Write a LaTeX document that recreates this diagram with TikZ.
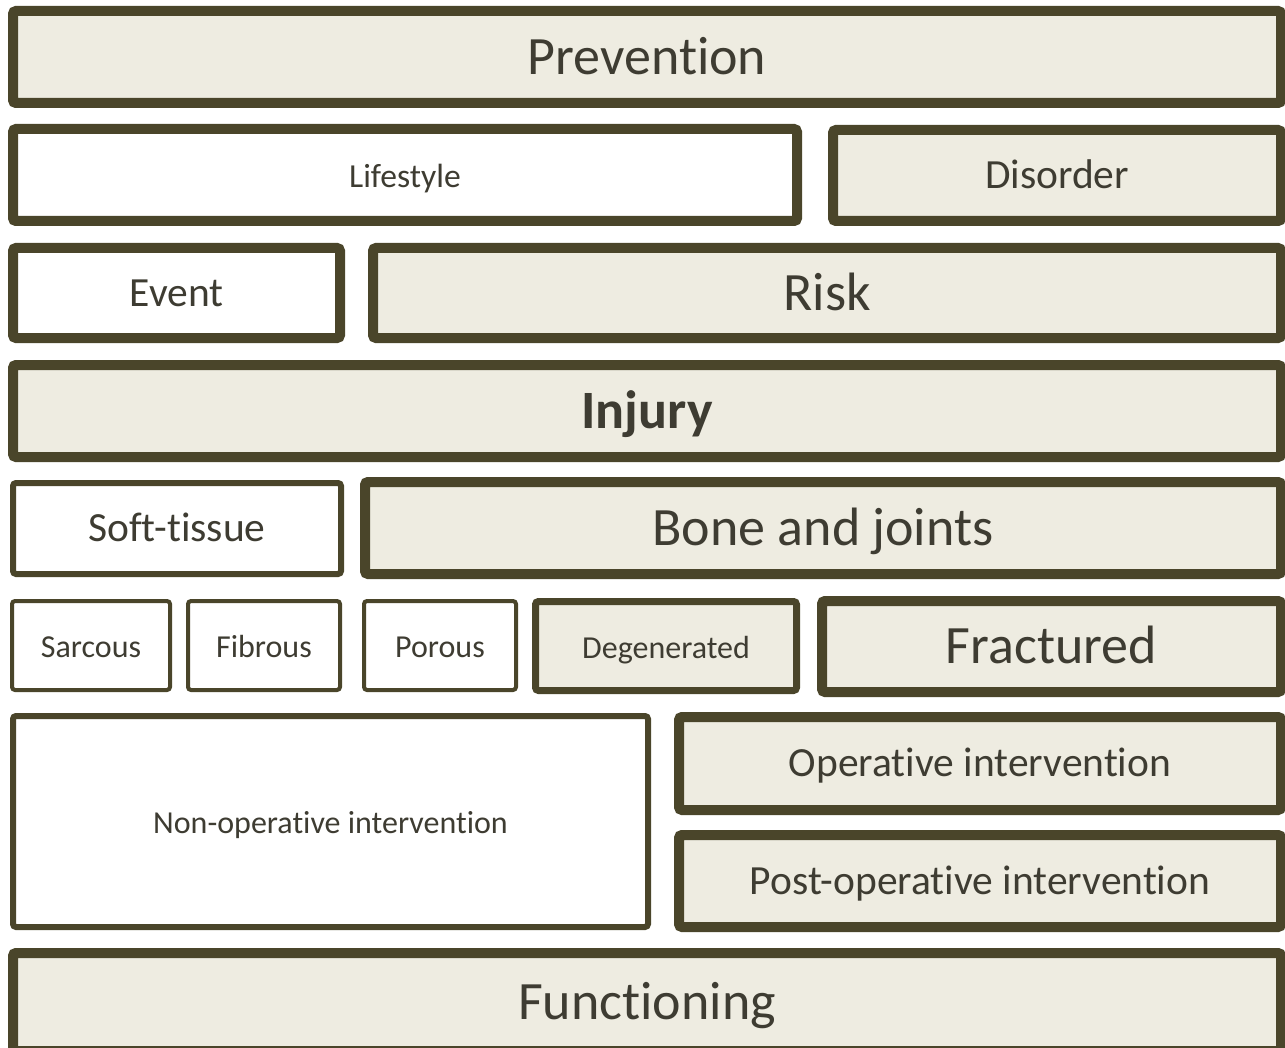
\documentclass[tikz,border=0pt]{standalone}
\usepackage{fontspec}
\setmainfont[Ligatures=NoCommon]{Carlito}
\definecolor{boxline}{RGB}{74,69,42}
\definecolor{boxtan}{RGB}{238,236,225}
\definecolor{boxtext}{RGB}{62,60,50}

\begin{document}
\begin{tikzpicture}[x=0.5pt, y=-0.5pt,
        tanbox/.style={draw=boxline, fill=boxtan, rounded corners=1.5pt, text=boxtext, inner sep=0pt, text depth=0pt},
        whitebox/.style={tanbox, fill=white},
        bigtxt/.style={font=\fontsize{27}{30}\selectfont, text height=17.4pt},
        midtxt/.style={font=\fontsize{20.75}{24}\selectfont, text height=13.4pt},
        smltxt/.style={font=\fontsize{16}{19}\selectfont, text height=12.3pt}]
                \useasboundingbox (0,0) rectangle (1285,1048);
                % top rows
                \node[tanbox, bigtxt, line width=5pt, minimum width=634pt, minimum height=46pt] (prevention) at (647,57) {Prevention};
                \node[whitebox, font=\fontsize{16.8}{20}\selectfont, text height=12.8pt, line width=5pt, minimum width=392pt, minimum height=46pt] (lifestyle) at (405,175) {Lifestyle};
                \node[tanbox, midtxt, line width=5pt, minimum width=224pt, minimum height=45.5pt] (disorder) at (1057,175.5) {Disorder};
                \node[whitebox, midtxt, line width=5pt, minimum width=163.5pt, minimum height=45pt] (event) at (176.5,293) {Event};
                \node[tanbox, bigtxt, line width=5pt, minimum width=454pt, minimum height=45pt] (risk) at (827,293) {Risk};
                \node[tanbox, bigtxt, font=\fontsize{27}{30}\selectfont\bfseries, line width=5pt, minimum width=634pt, minimum height=46pt] (injury) at (647,411) {Injury};
                % tissue types
                \node[whitebox, midtxt, line width=3pt, minimum width=164pt, minimum height=45.5pt] (softtissue) at (177,528.5) {Soft-tissue};
                \node[tanbox, bigtxt, line width=5pt, minimum width=458pt, minimum height=46pt] (bonejoints) at (823,528) {Bone and joints};
                \node[whitebox, smltxt, line width=2pt, minimum width=79pt, minimum height=44.5pt] (sarcous) at (91,645.5) {Sarcous};
                \node[whitebox, smltxt, line width=2pt, minimum width=76pt, minimum height=44.5pt] (fibrous) at (264,645.5) {Fibrous};
                \node[whitebox, smltxt, line width=2pt, minimum width=76pt, minimum height=44.5pt] (porous) at (440,645.5) {Porous};
                \node[tanbox, smltxt, line width=3.5pt, minimum width=130.5pt, minimum height=44.5pt] (degenerated) at (666,646) {Degenerated};
                \node[tanbox, bigtxt, line width=5pt, minimum width=229.5pt, minimum height=45.5pt] (fractured) at (1051.5,646.5) {Fractured};
                % interventions
                \node[whitebox, smltxt, line width=3pt, minimum width=317.5pt, minimum height=105.5pt] (nonoperative) at (330.5,821.5) {Non-operative intervention};
                \node[tanbox, midtxt, line width=5pt, minimum width=301pt, minimum height=46.5pt] (operative) at (980,763.5) {Operative intervention};
                \node[tanbox, midtxt, line width=5pt, minimum width=301pt, minimum height=46pt] (postoperative) at (980,881) {Post-operative intervention};
                \node[tanbox, bigtxt, line width=5pt, minimum width=634pt, minimum height=49pt] (functioning) at (647,1002) {Functioning};
\end{tikzpicture}
\end{document}
